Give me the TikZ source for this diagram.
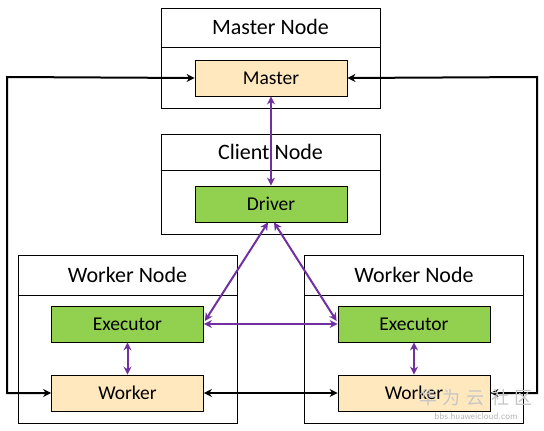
\documentclass[tikz,border=0pt]{standalone}
\usepackage{fontspec}
\setmainfont{Carlito}
\newfontfamily\cjk{Noto Sans CJK SC}
\usepackage{xcolor}
\usepackage{tikz}
\usetikzlibrary{arrows.meta}
\usetikzlibrary{calc}
\definecolor{beige}{HTML}{FFE8BE}
\definecolor{leaf}{HTML}{92D050}
\definecolor{plum}{HTML}{7030A0}

\begin{document}
\begin{tikzpicture}[x=1pt, y=-1pt]

                \tikzstyle{machine} = [rectangle, draw, line width=1pt, minimum width=219pt, inner sep=0pt]
                \tikzstyle{title}   = [font=\fontsize{22}{26}\selectfont, inner sep=0pt]
                \tikzstyle{proc}    = [rectangle, draw, line width=0.8pt, minimum width=152pt, minimum height=36pt,
                                       inner sep=0pt, font=\fontsize{19.5}{23}\selectfont]
                \tikzstyle{link}    = [line width=2pt, {Stealth[length=8pt,width=8pt]}-{Stealth[length=8pt,width=8pt]}]

                \useasboundingbox (0,0) rectangle (544,431);

                % the four machines
                \node [machine, minimum height=100pt](mnode) at (270.5, 58) {};
                \node [machine, minimum height=100pt](cnode) at (270.5, 184) {};
                \foreach \side/\x in {l/127.5, r/414}
                {
                        \node [machine, minimum height=168pt](wnode\side) at (\x, 339) {};
                        \draw [line width=1pt] (wnode\side.west |- 0,295) -- (wnode\side.east |- 0,295);
                        \node [title](wtitle\side) at (\x, 275) {Worker Node};
                        \node [proc, fill=leaf](exec\side) at (\x, 324) {Executor};
                        \node [proc, fill=beige](work\side) at (\x, 393) {Worker};
                        \draw [link, plum] (exec\side) -- (work\side);
                }

                \draw [line width=1pt] (mnode.west |- 0,47) -- (mnode.east |- 0,47);
                \draw [line width=1pt] (cnode.west |- 0,170) -- (cnode.east |- 0,170);
                \node [title](mtitle) at (270.5, 27) {Master Node};
                \node [title](ctitle) at (270.5, 152) {Client Node};

                \node [proc, fill=beige](master) at (271, 78) {Master};
                \node [proc, fill=leaf](driver) at (271, 204) {Driver};

                % control links
                \draw [link, plum] (master) -- (driver);
                \draw [link, plum] ($(driver.south)+(-3,0)$) -- ($(execl.east)+(1,-3)$);
                \draw [link, plum] ($(driver.south)+(3,0)$) -- ($(execr.west)+(-1,-3)$);
                \draw [link, plum] (execl) -- (execr);

                % cluster links
                \draw [link] (workl) -- (workr);
                \draw [link] (workl.west) -- (7, 393) -- (7, 77) -- (master.west);
                \draw [link] (workr.east) -- (537, 393) -- (537, 77) -- (master.east);

                % watermark
                \node [text=gray!45, font=\cjk\fontsize{18}{20}\selectfont, inner sep=0pt](wmark) at (476, 398) {华\,\,为\,\,云\,\,社\,\,区};
                \node [text=gray!60, font=\sffamily\fontsize{9.5}{11}\selectfont, inner sep=0pt](wurl) at (476, 416) {bbs.huaweicloud.com};

\end{tikzpicture}
\end{document}
